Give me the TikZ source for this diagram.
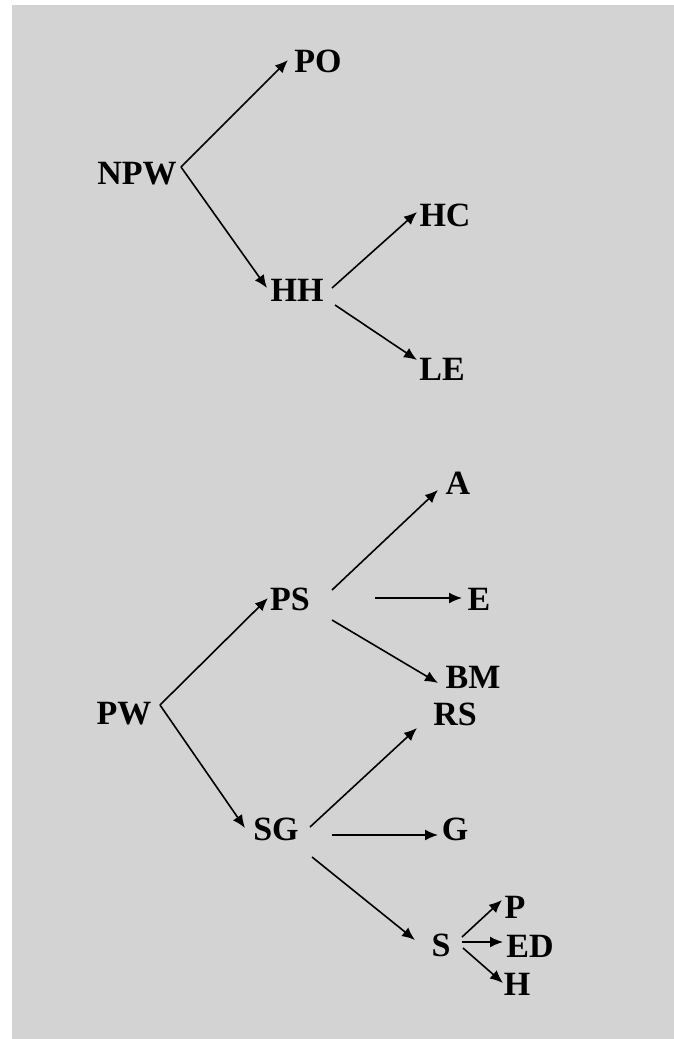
\documentclass[tikz,border=0pt]{standalone}
\usepackage{fontspec}
\setmainfont{Liberation Serif}
\usetikzlibrary{arrows.meta}
\definecolor{bggray}{RGB}{211,211,211}
\tikzset{
  lbl/.style={inner sep=0pt, font=\fontsize{17}{20}\selectfont\bfseries},
  arr/.style={-{Latex[length=6.5pt,width=5.5pt]}, line width=0.8pt}
}
\begin{document}
\begin{tikzpicture}[x=0.5pt,y=-0.5pt]
            \useasboundingbox (0,0) rectangle (674,1039);
            \fill[bggray] (12,5) rectangle (674,1039);
            % Nodes
            \node[lbl] (NPW) at (137,174){NPW};
            \node[lbl] (PO) at (318,61){PO};
            \node[lbl] (HH) at (297,290){HH};
            \node[lbl] (HC) at (445,215){HC};
            \node[lbl] (LE) at (442,369){LE};
            \node[lbl] (PW) at (124,714){PW};
            \node[lbl] (PS) at (290,599){PS};
            \node[lbl] (SG) at (276,829){SG};
            \node[lbl] (A) at (458,483){A};
            \node[lbl] (E) at (479,599){E};
            \node[lbl] (BM) at (473,677){BM};
            \node[lbl] (RS) at (455,714){RS};
            \node[lbl] (G) at (455,829){G};
            \node[lbl] (S) at (441,945){S};
            \node[lbl] (P) at (515,907){P};
            \node[lbl] (ED) at (530,946){ED};
            \node[lbl] (H) at (517,984){H};
            % Edges
            \draw[arr] ([shift={(44,-7)}]NPW.center) -- ([shift={(-30,-1)}]PO.center);
            \draw[arr] ([shift={(44,-7)}]NPW.center) -- ([shift={(-30,-2)}]HH.center);
            \draw[arr] ([shift={(35,-2)}]HH.center) -- ([shift={(-28,-3)}]HC.center);
            \draw[arr] ([shift={(38,15)}]HH.center) -- ([shift={(-25,-9)}]LE.center);
            \draw[arr] ([shift={(36,-9)}]PW.center) -- ([shift={(-22,-1)}]PS.center);
            \draw[arr] ([shift={(36,-9)}]PW.center) -- ([shift={(-31,-1)}]SG.center);
            \draw[arr] ([shift={(42,-9)}]PS.center) -- ([shift={(-20,7)}]A.center);
            \draw[arr] ([shift={(85,-1)}]PS.center) -- ([shift={(-17,-1)}]E.center);
            \draw[arr] ([shift={(42,21)}]PS.center) -- ([shift={(-35,6)}]BM.center);
            \draw[arr] ([shift={(34,-2)}]SG.center) -- ([shift={(-38,14)}]RS.center);
            \draw[arr] ([shift={(56,6)}]SG.center) -- ([shift={(-17,6)}]G.center);
            \draw[arr] ([shift={(36,28)}]SG.center) -- ([shift={(-26,-5)}]S.center);
            \draw[arr] ([shift={(21,-8)}]S.center) -- ([shift={(-13,-7)}]P.center);
            \draw[arr] ([shift={(21,-3)}]S.center) -- ([shift={(-27,-4)}]ED.center);
            \draw[arr] ([shift={(22,3)}]S.center) -- ([shift={(-14,-1)}]H.center);
\end{tikzpicture}
\end{document}
